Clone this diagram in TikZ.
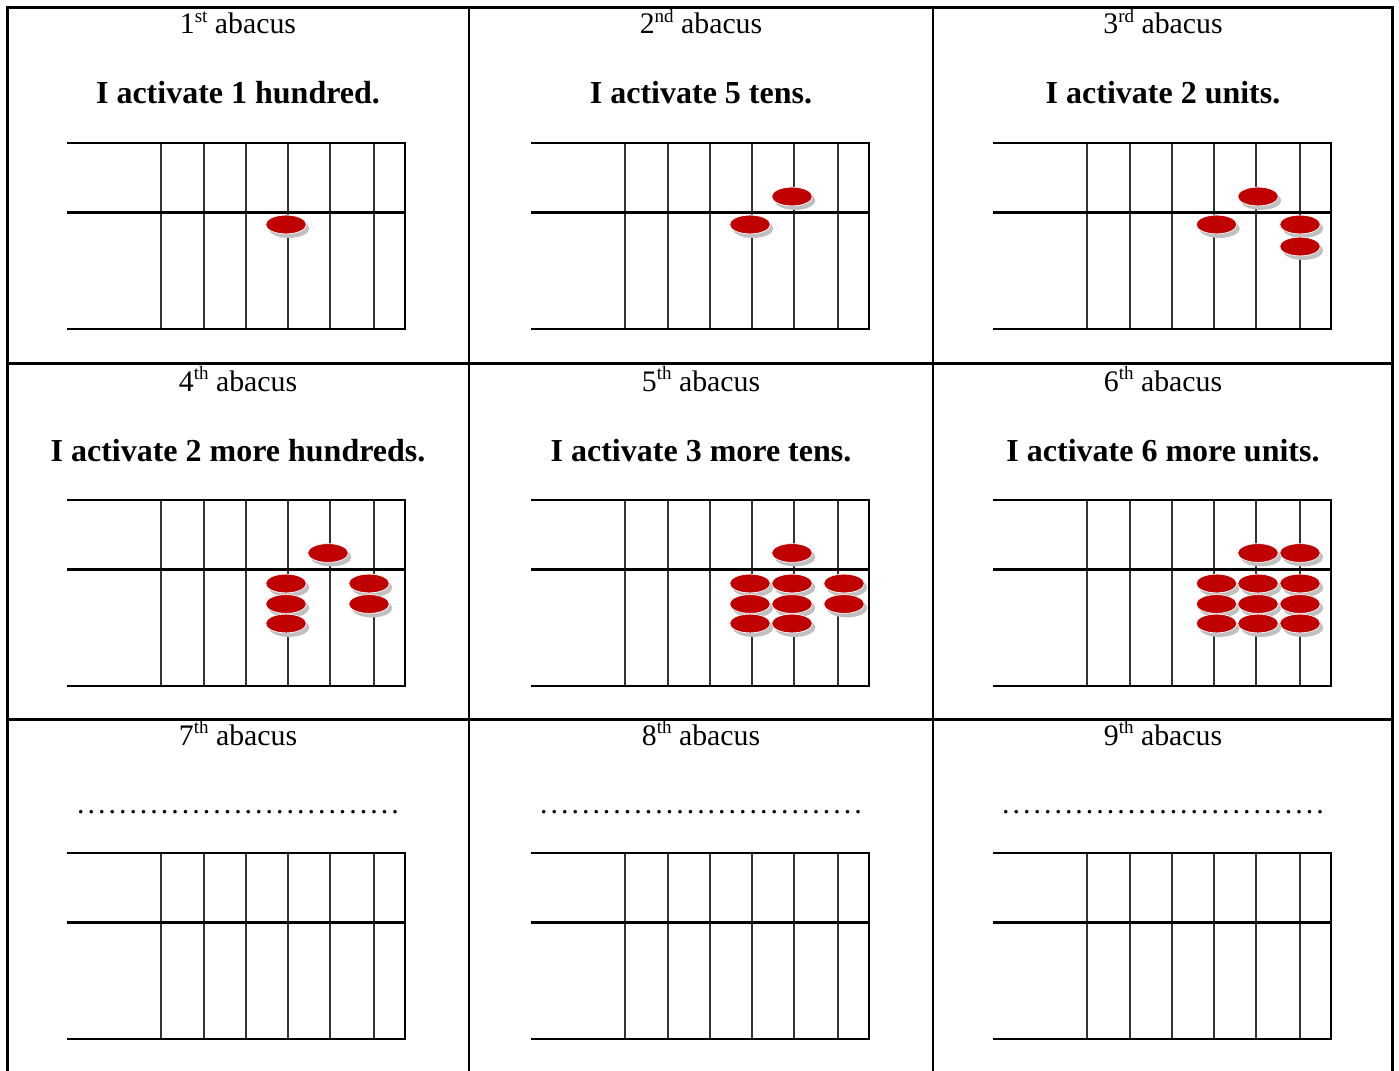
\documentclass[tikz,border=0pt]{standalone}
\usepackage{fontspec}
\setmainfont{Liberation Serif}
\definecolor{beadred}{RGB}{192,0,0}
\definecolor{shadowgray}{RGB}{192,192,192}
\newcommand\sups[1]{\raisebox{0.38em}{\fontsize{19}{19}\selectfont #1}}
\newcommand\dotline{\hbox to 325pt{\xleaders\hbox to 10.16pt{\hss.\hss}\hfill}}
\newcommand\bead[2]{%
  \fill[shadowgray] (#1+3,#2+4) ellipse [x radius=20.3, y radius=9.4];
  \filldraw[fill=beadred, draw=white, line width=0.7pt] (#1,#2) ellipse [x radius=20.3, y radius=9.4];}
\newcommand\abacusframe[2]{%
  \begin{scope}[shift={(#1,#2)}]
    \foreach \x in {161,204,246,288,330,374} \draw[rod] (\x,143) -- (\x,329);
    \draw[frame] (67,143) -- (405,143) -- (405,329) -- (67,329);
    \draw[frame] (67,212.5) -- (405,212.5);
  \end{scope}}
\begin{document}
\begin{tikzpicture}[x=1pt,y=-1pt,
  grid/.style={line width=2.6pt},
  frame/.style={line width=2.8pt},
  rod/.style={line width=1.3pt, black!80},
  head/.style={anchor=base, inner sep=0pt, font=\fontsize{29.8}{32}\selectfont},
  task/.style={anchor=base, inner sep=0pt, font=\fontsize{32}{34}\selectfont\bfseries},
]
\useasboundingbox (0,0) rectangle (1399,1070);
\fill[white] (0,0) rectangle (1399,1070);
% table grid
\draw[grid] (7.5,1075) -- (7.5,7.5) -- (1392.5,7.5) -- (1392.5,1075);
\draw[grid] (469,7.5) -- (469,1075);
\draw[grid] (933,7.5) -- (933,1075);
\draw[grid] (7.5,363.5) -- (1392.5,363.5);
\draw[grid] (7.5,719.5) -- (1392.5,719.5);
% abacus frames
\foreach \dy in {0,357,710} {
  \abacusframe{0}{\dy}
  \abacusframe{464}{\dy}
  \abacusframe{926}{\dy}
}
% headings
\node[head] (h1) at (238,34) {1\sups{st} abacus};
\node[head] (h2) at (701,34) {2\sups{nd} abacus};
\node[head] (h3) at (1163,34) {3\sups{rd} abacus};
\node[head] (h4) at (238,391) {4\sups{th} abacus};
\node[head] (h5) at (701,391) {5\sups{th} abacus};
\node[head] (h6) at (1163,391) {6\sups{th} abacus};
\node[head] (h7) at (238,745) {7\sups{th} abacus};
\node[head] (h8) at (701,745) {8\sups{th} abacus};
\node[head] (h9) at (1163,745) {9\sups{th} abacus};
% tasks
\node[task] (t1) at (238,104) {I activate 1 hundred.};
\node[task] (t2) at (701,104) {I activate 5 tens.};
\node[task] (t3) at (1163,104) {I activate 2 units.};
\node[task] (t4) at (238,461) {I activate 2 more hundreds.};
\node[task] (t5) at (701,461) {I activate 3 more tens.};
\node[task] (t6) at (1163,461) {I activate 6 more units.};
\node[head] (t7) at (238,813) {\dotline};
\node[head] (t8) at (701,813) {\dotline};
\node[head] (t9) at (1163,813) {\dotline};
% beads: abacus 1
\bead{286}{224.5}
% abacus 2
\bead{792}{196.5}
\bead{750}{224.5}
% abacus 3
\bead{1258}{196.5}
\bead{1216.5}{224.5}
\bead{1300}{224.5}
\bead{1300}{246.5}
% abacus 4
\bead{328}{553}
\bead{286}{583.5}
\bead{369}{583.5}
\bead{286}{604}
\bead{369}{604}
\bead{286}{623.5}
% abacus 5
\bead{792}{553}
\bead{750}{583.5}
\bead{792}{583.5}
\bead{844}{583.5}
\bead{750}{604}
\bead{792}{604}
\bead{844}{604}
\bead{750}{623.5}
\bead{792}{623.5}
% abacus 6
\bead{1258}{553}
\bead{1300}{553}
\bead{1216.5}{583.5}
\bead{1258}{583.5}
\bead{1300}{583.5}
\bead{1216.5}{604}
\bead{1258}{604}
\bead{1300}{604}
\bead{1216.5}{623.5}
\bead{1258}{623.5}
\bead{1300}{623.5}
\end{tikzpicture}
\end{document}
